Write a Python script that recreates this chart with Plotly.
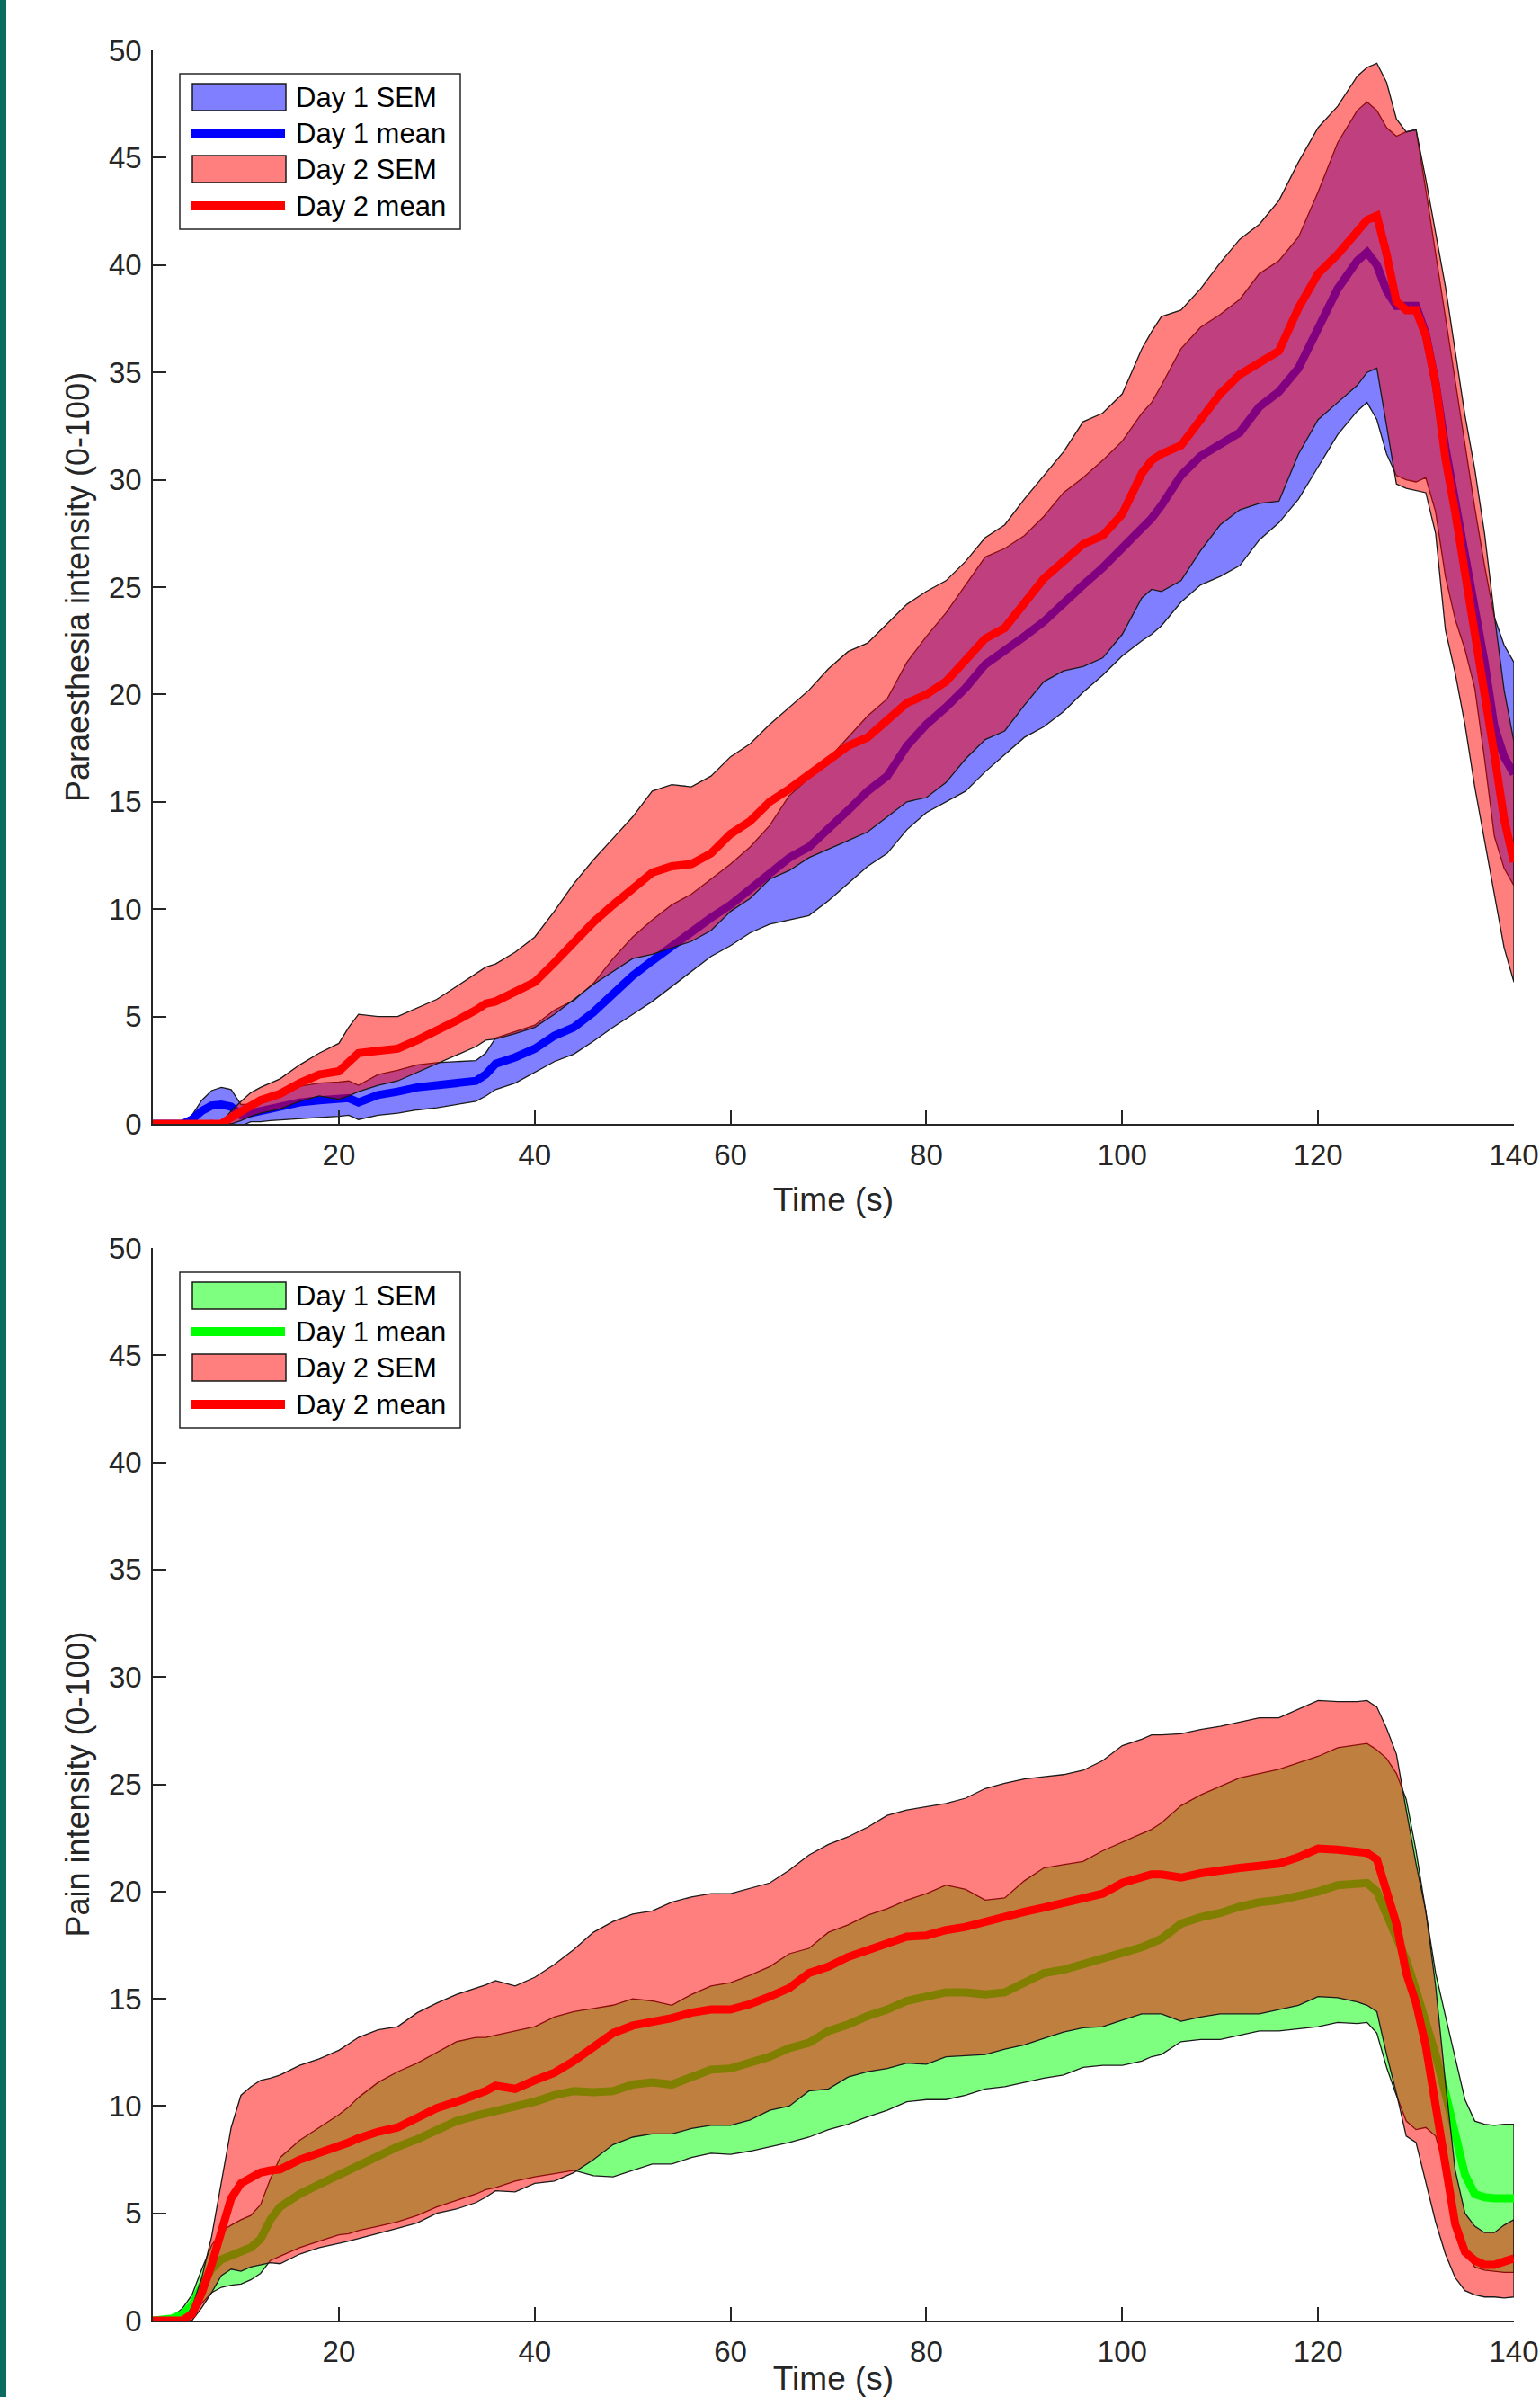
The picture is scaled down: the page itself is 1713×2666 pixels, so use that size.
import plotly.graph_objects as go

# ---------------- data ----------------
time_s = [1, 3, 4, 5, 6, 7, 8, 9, 10, 11, 12, 13, 14, 16, 18, 20, 21, 22, 24, 26,
          28, 30, 32, 34, 35, 36, 38, 40, 42, 44, 46, 48, 50, 52, 54, 56, 58, 60, 62, 64,
          66, 68, 70, 72, 74, 76, 78, 80, 82, 84, 86, 88, 90, 92, 94, 96, 98, 100, 102, 103,
          104, 106, 108, 110, 112, 114, 116, 118, 120, 122, 124, 125, 126, 127, 128, 129, 130, 131, 132, 133,
          134, 135, 136, 137, 138, 139, 140]

# Paraesthesia intensity
para_day1_mean = [0, 0, 0, 0.2, 0.6, 0.85, 0.9, 0.8, 0.4, 0.5, 0.6, 0.7, 0.8, 1.0, 1.1, 1.15, 1.2, 1.0, 1.35, 1.5,
                  1.7, 1.8, 1.9, 2.0, 2.3, 2.8, 3.1, 3.5, 4.1, 4.5, 5.2, 6.1, 6.9, 7.6, 8.3, 8.9, 9.6, 10.2, 10.9, 11.6,
                  12.4, 12.9, 13.7, 14.6, 15.5, 16.2, 17.6, 18.6, 19.4, 20.3, 21.4, 22.0, 22.7, 23.4, 24.3, 25.1, 25.9, 26.8, 27.8, 28.2,
                  28.8, 30.2, 31.1, 31.6, 32.2, 33.4, 34.1, 35.2, 37.0, 38.9, 40.2, 40.6, 40.0, 38.8, 38.1, 38.1, 38.1, 36.8, 34.5, 31.5,
                  29.0, 26.8, 24.5, 21.5, 18.5, 17.1, 16.3]
para_day1_sem = [0, 0, 0, 0.2, 0.5, 0.7, 0.8, 0.8, 0.5, 0.4, 0.5, 0.55, 0.6, 0.75, 0.8, 0.8, 0.8, 0.8, 0.95, 1.0,
                 1.05, 1.05, 1.0, 0.95, 1.0, 1.2, 1.2, 1.1, 1.2, 1.25, 1.35, 1.6, 1.8, 1.9, 1.9, 1.8, 1.8, 1.9, 2.0, 2.3,
                 2.9, 3.2, 3.3, 3.4, 3.5, 3.6, 3.9, 4.1, 4.4, 4.8, 5.0, 4.8, 4.7, 4.9, 5.1, 5.0, 5.0, 5.0, 5.3, 5.4,
                 5.6, 5.9, 6.0, 6.1, 6.2, 6.2, 6.1, 6.1, 6.4, 6.8, 7.0, 7.0, 7.2, 7.6, 7.9, 8.1, 8.2, 6.7, 6.0, 6.0,
                 5.5, 4.7, 4.2, 4.5, 5.1, 5.2, 5.2]
para_day2_mean = [0, 0, 0, 0, 0, 0, 0, 0.3, 0.6, 0.9, 1.1, 1.25, 1.4, 1.9, 2.3, 2.45, 2.9, 3.3, 3.4, 3.5,
                  3.9, 4.3, 4.8, 5.3, 5.6, 5.7, 6.1, 6.6, 7.5, 8.5, 9.4, 10.2, 11.0, 11.7, 12.0, 12.1, 12.6, 13.5, 14.1, 15.0,
                  15.6, 16.3, 17.0, 17.6, 18.0, 18.8, 19.6, 20.0, 20.6, 21.6, 22.6, 23.1, 24.3, 25.4, 26.2, 27.0, 27.4, 28.4, 30.3, 30.9,
                  31.2, 31.6, 32.8, 34.0, 34.9, 35.4, 36.0, 38.0, 39.6, 40.5, 41.6, 42.1, 42.3, 40.5, 38.3, 37.9, 37.9, 36.7, 34.5, 31.0,
                  28.5, 25.8, 23.1, 20.3, 17.2, 14.2, 12.2]
para_day2_sem = [0, 0, 0, 0, 0, 0, 0.05, 0.3, 0.45, 0.55, 0.6, 0.65, 0.7, 0.85, 1.0, 1.3, 1.6, 1.8, 1.6, 1.5,
                 1.5, 1.5, 1.6, 1.7, 1.7, 1.75, 1.9, 2.1, 2.4, 2.7, 2.9, 3.1, 3.3, 3.8, 3.8, 3.6, 3.6, 3.6, 3.6, 3.6,
                 3.8, 3.9, 4.2, 4.4, 4.4, 4.5, 4.6, 4.8, 4.7, 4.6, 4.7, 4.8, 4.8, 4.8, 5.1, 5.7, 5.7, 5.6, 5.8, 6.0,
                 6.4, 6.3, 6.1, 6.1, 6.3, 6.5, 7.0, 6.8, 6.8, 6.9, 7.2, 7.1, 7.1, 8.0, 8.5, 8.3, 8.4, 7.3, 7.0, 8.0,
                 7.5, 7.2, 7.4, 7.2, 6.5, 6.0, 5.6]

# Pain intensity
pain_day1_mean = [0, 0.1, 0.3, 0.7, 1.6, 2.4, 2.85, 3.05, 3.2, 3.4, 3.8, 4.7, 5.3, 5.9, 6.35, 6.8, 7.0, 7.3, 7.75, 8.1,
                  8.45, 8.9, 9.3, 9.55, 9.65, 9.75, 10.0, 10.2, 10.5, 10.7, 10.65, 10.7, 11.0, 11.1, 11.0, 11.4, 11.7, 11.75, 12.0, 12.3,
                  12.7, 12.95, 13.5, 13.8, 14.2, 14.5, 14.9, 15.1, 15.3, 15.3, 15.2, 15.3, 15.8, 16.2, 16.35, 16.6, 16.9, 17.1, 17.4, 17.6,
                  17.8, 18.5, 18.8, 19.0, 19.3, 19.5, 19.6, 19.8, 20.0, 20.3, 20.35, 20.4, 20.0, 19.0, 18.0, 16.8, 15.4, 14.0, 12.4, 10.6,
                  8.5, 6.8, 5.9, 5.75, 5.7, 5.7, 5.7]
pain_day1_sem = [0, 0.1, 0.25, 0.5, 0.8, 1.1, 1.3, 1.4, 1.5, 1.5, 1.6, 1.9, 2.3, 2.5, 2.65, 2.8, 2.95, 3.1, 3.35, 3.5,
                 3.55, 3.6, 3.7, 3.65, 3.55, 3.55, 3.5, 3.5, 3.65, 3.7, 3.9, 4.0, 4.0, 3.8, 3.7, 3.8, 3.9, 4.0, 4.1, 4.2,
                 4.4, 4.4, 4.6, 4.65, 4.7, 4.7, 4.7, 4.8, 5.0, 4.8, 4.4, 4.4, 4.7, 4.9, 4.9, 4.8, 5.0, 5.2, 5.3, 5.3,
                 5.4, 5.5, 5.7, 5.9, 6.0, 6.0, 6.1, 6.2, 6.3, 6.4, 6.5, 6.5, 6.6, 7.2, 7.5, 7.5, 6.5, 5.0, 3.8, 3.6,
                 3.8, 3.5, 3.4, 3.4, 3.4, 3.45, 3.45]
pain_day2_mean = [0, 0, 0, 0.3, 1.3, 2.6, 4.3, 5.7, 6.4, 6.7, 6.9, 7.0, 7.05, 7.5, 7.8, 8.1, 8.3, 8.5, 8.8, 9.0,
                  9.45, 9.9, 10.2, 10.5, 10.7, 10.95, 10.8, 11.2, 11.55, 12.1, 12.8, 13.4, 13.75, 13.9, 14.1, 14.35, 14.5, 14.5, 14.75, 15.1,
                  15.5, 16.2, 16.5, 16.95, 17.3, 17.65, 17.9, 17.95, 18.2, 18.35, 18.6, 18.85, 19.05, 19.25, 19.45, 19.65, 19.9, 20.4, 20.7, 20.8,
                  20.8, 20.65, 20.85, 21.0, 21.1, 21.2, 21.3, 21.6, 22.0, 21.95, 21.85, 21.8, 21.5, 20.0, 18.5, 16.2, 14.8, 12.8, 10.1, 7.1,
                  4.5, 3.2, 2.8, 2.6, 2.6, 2.75, 2.9]
pain_day2_sem = [0, 0, 0, 0.3, 0.7, 1.3, 2.2, 3.3, 4.1, 4.2, 4.3, 4.3, 4.4, 4.4, 4.4, 4.5, 4.6, 4.7, 4.75, 4.7,
                 4.9, 4.9, 5.0, 5.0, 4.95, 4.9, 4.8, 4.8, 5.05, 5.2, 5.3, 5.2, 5.2, 5.2, 5.4, 5.4, 5.4, 5.4, 5.4, 5.3,
                 5.5, 5.5, 5.7, 5.6, 5.7, 5.9, 5.9, 6.0, 5.9, 6.0, 6.2, 6.2, 6.2, 6.1, 6.0, 6.0, 6.2, 6.4, 6.4, 6.5,
                 6.5, 6.7, 6.7, 6.7, 6.8, 6.9, 6.8, 6.9, 6.9, 6.9, 7.0, 7.1, 7.1, 7.6, 7.9, 7.6, 6.5, 6.3, 5.5, 4.0,
                 2.5, 1.8, 1.6, 1.5, 1.5, 1.7, 1.8]

x_ticks = [20, 40, 60, 80, 100, 120, 140]
y_ticks = [0, 5, 10, 15, 20, 25, 30, 35, 40, 45, 50]
legend_labels = ["Day 1 SEM", "Day 1 mean", "Day 2 SEM", "Day 2 mean"]

# ---------------- styling ----------------
W, H = 1713, 2666
FONT = "Liberation Sans, Arial, Helvetica, sans-serif"
INK = "#262626"
EDGE = "#1a1a1a"
BLUE = (0, 0, 255)
GREEN = (0, 255, 0)
RED = (255, 0, 0)


def rgba(c, a):
    return "rgba(%d,%d,%d,%s)" % (c[0], c[1], c[2], a)


def px_x(p):
    return p / W


def px_y(p):
    return 1 - p / H


def band(x, m, s):
    up = [a + b for a, b in zip(m, s)]
    lo = [a - b for a, b in zip(m, s)]
    return list(x) + list(x)[::-1], up + lo[::-1]


fig = go.Figure()
shapes = [dict(type="rect", xref="paper", yref="paper", x0=0, x1=px_x(7), y0=0, y1=1,
               fillcolor="#0b6b5e", line=dict(width=0), layer="above")]
annotations = []


def add_panel(xa, ya, d1m, d1s, d2m, d2s, c1, legend_top):
    bx, by = band(time_s, d1m, d1s)
    fig.add_trace(go.Scatter(x=bx, y=by, fill="toself", mode="lines", fillcolor=rgba(c1, 0.5),
                             line=dict(color=EDGE, width=1.3), name=legend_labels[0],
                             xaxis=xa, yaxis=ya, showlegend=False, hoverinfo="skip"))
    fig.add_trace(go.Scatter(x=time_s, y=d1m, mode="lines", line=dict(color=rgba(c1, 1), width=9),
                             name=legend_labels[1], xaxis=xa, yaxis=ya, showlegend=False))
    bx, by = band(time_s, d2m, d2s)
    fig.add_trace(go.Scatter(x=bx, y=by, fill="toself", mode="lines", fillcolor=rgba(RED, 0.5),
                             line=dict(color=EDGE, width=1.3), name=legend_labels[2],
                             xaxis=xa, yaxis=ya, showlegend=False, hoverinfo="skip"))
    fig.add_trace(go.Scatter(x=time_s, y=d2m, mode="lines", line=dict(color=rgba(RED, 1), width=9),
                             name=legend_labels[3], xaxis=xa, yaxis=ya, showlegend=False))

    # legend box (MATLAB style: large patch swatches)
    t = legend_top
    shapes.append(dict(type="rect", xref="paper", yref="paper",
                       x0=px_x(200), x1=px_x(512), y0=px_y(t + 173), y1=px_y(t),
                       fillcolor="white", line=dict(color=INK, width=1.5), layer="above"))
    rows = [t + 26, t + 66, t + 106, t + 147]
    colors = [c1, c1, RED, RED]
    for i, (yc, col, lab) in enumerate(zip(rows, colors, legend_labels)):
        if i % 2 == 0:
            shapes.append(dict(type="rect", xref="paper", yref="paper",
                               x0=px_x(214), x1=px_x(318), y0=px_y(yc + 15), y1=px_y(yc - 15),
                               fillcolor=rgba(col, 0.5), line=dict(color=EDGE, width=1.5), layer="above"))
        else:
            shapes.append(dict(type="line", xref="paper", yref="paper",
                               x0=px_x(213), x1=px_x(317), y0=px_y(yc), y1=px_y(yc),
                               line=dict(color=rgba(col, 1), width=10), layer="above"))
        annotations.append(dict(text=lab, xref="paper", yref="paper", x=px_x(327), y=px_y(yc),
                                xanchor="left", yanchor="middle", showarrow=False,
                                font=dict(family=FONT, size=31, color="black")))


add_panel("x", "y", para_day1_mean, para_day1_sem, para_day2_mean, para_day2_sem, BLUE, 82)
add_panel("x2", "y2", pain_day1_mean, pain_day1_sem, pain_day2_mean, pain_day2_sem, GREEN, 1415)

axis_common = dict(showline=True, linecolor=INK, linewidth=1.5, mirror=False,
                   ticks="inside", ticklen=15, tickwidth=1.5, tickcolor=INK,
                   showgrid=False, zeroline=False, automargin=False,
                   tickfont=dict(family=FONT, size=33, color=INK))

xdom = [px_x(170), px_x(1684)]
xax = dict(axis_common, range=[1, 140], tickvals=x_ticks, ticklabelstandoff=5,
           title=dict(text="Time (s)", font=dict(family=FONT, size=37, color=INK), standoff=19))
ytitle_font = dict(family=FONT, size=36, color=INK)
yax = dict(axis_common, range=[0, 50], tickvals=y_ticks, ticklabelstandoff=4)

fig.update_layout(
    width=W, height=H,
    margin=dict(l=0, r=0, t=0, b=0),
    paper_bgcolor="white", plot_bgcolor="white",
    showlegend=False,
    xaxis=dict(xax, domain=xdom, anchor="y"),
    yaxis=dict(yax, domain=[px_y(1250), px_y(56)], anchor="x",
               title=dict(text="Paraesthesia intensity (0-100)", font=ytitle_font, standoff=10)),
    xaxis2=dict(xax, domain=xdom, anchor="y2"),
    yaxis2=dict(yax, domain=[px_y(2581), px_y(1388)], anchor="x2",
                title=dict(text="Pain intensity (0-100)", font=ytitle_font, standoff=10)),
    shapes=shapes,
    annotations=annotations,
)

fig.write_html("out.html", config={"displayModeBar": False},
               post_script="document.body.style.margin='0px';")
